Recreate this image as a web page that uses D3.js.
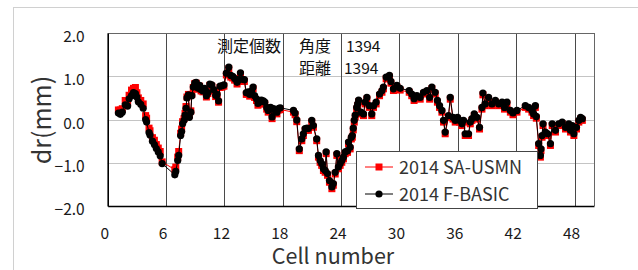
<!DOCTYPE html>
<html><head><meta charset="utf-8">
<script src="https://cdn.jsdelivr.net/npm/d3@7"></script>
<style>
html,body{margin:0;padding:0;background:#fff;}
svg{display:block;}
text{font-family:"Noto Sans CJK JP","Noto Sans",sans-serif;}
</style></head>
<body>
<svg id="c" width="638" height="270"></svg>
<script>
// ---- data ----
const cells = [1.1,1.3,1.5,1.8,2.05,2.2,2.45,2.65,2.85,3.0,3.15,3.4,3.65,3.9,4.0,4.25,4.35,4.6,4.8,5.0,5.2,5.4,5.6,
6.9,7.0,7.2,7.3,7.5,7.6,7.7,7.85,7.95,8.05,8.15,8.3,8.4,8.55,8.65,8.8,8.95,9.1,9.3,9.45,9.6,9.8,9.95,10.15,10.3,10.5,10.7,10.9,11.1,11.25,11.4,11.55,11.75,11.95,
12.2,12.45,12.65,12.85,13.05,13.3,13.45,13.65,13.85,14.05,14.25,14.45,14.6,14.8,14.95,15.1,15.3,15.45,15.6,15.8,16.0,16.15,16.35,16.5,16.75,16.9,17.05,17.25,17.4,17.6,17.75,
19.1,19.27,19.44,19.7,19.96,20.12,20.3,20.5,20.64,20.98,21.15,21.49,21.67,21.84,22.0,22.18,22.36,22.46,22.6,22.8,23.05,23.2,23.39,23.56,23.72,23.9,
24.07,24.24,24.42,24.66,24.76,24.93,25.05,25.15,25.25,25.35,25.45,25.6,25.7,25.8,26.03,26.3,26.47,26.65,26.9,27.15,27.33,27.6,27.95,28.2,28.35,28.63,28.97,29.12,29.38,29.73,30.07,
31.0,31.26,31.5,31.79,32.13,32.47,32.82,33.1,33.33,33.67,33.9,34.12,34.36,34.53,34.7,35.04,35.22,35.5,35.73,35.97,
36.17,36.42,36.58,36.76,37.1,37.28,37.45,37.69,37.96,38.23,38.48,38.58,38.82,39.16,39.51,39.86,40.2,40.55,40.8,41.05,41.4,41.67,
42.08,42.94,43.28,43.62,43.79,43.97,44.07,44.31,44.49,44.55,44.66,44.76,45.0,45.24,45.52,45.7,46.04,46.38,46.73,47.07,47.41,47.58,47.76,47.93,48.2,48.44,48.62,48.8];

const fBasic = [0.15,0.12,0.17,0.34,0.31,0.48,0.55,0.62,0.60,0.52,0.41,0.35,0.26,0.00,-0.06,-0.30,-0.36,-0.50,-0.58,-0.67,-0.75,-0.84,-1.02,
-1.28,-1.20,-0.95,-0.83,-0.37,-0.28,-0.10,-0.02,0.10,0.26,0.50,0.57,0.05,0.17,0.55,0.75,0.84,0.86,0.72,0.79,0.69,0.66,0.72,0.55,0.62,0.82,0.80,0.69,0.56,0.58,0.43,0.77,0.78,0.80,
1.07,1.21,1.02,1.00,0.95,0.86,0.92,1.08,0.93,0.92,0.62,0.64,0.58,0.66,0.75,0.55,0.48,0.37,0.40,0.45,0.43,0.40,0.28,0.21,0.28,0.06,0.25,0.20,0.17,0.26,0.27,
0.21,0.15,-0.01,-0.68,-0.45,-0.33,-0.21,-0.20,-0.21,-0.02,-0.14,-0.45,-0.83,-0.95,-1.02,-1.14,-1.18,-0.75,-1.25,-1.41,-1.56,-1.48,-1.22,-0.79,-1.10,-1.02,
-0.95,-0.87,-0.75,-0.72,-0.52,-0.64,-0.41,-0.37,-0.20,-0.02,0.10,0.28,0.36,0.45,0.17,0.13,0.40,0.51,0.32,0.13,0.32,0.40,0.59,0.67,0.75,0.98,1.02,0.88,0.71,0.79,0.72,
0.67,0.59,0.48,0.55,0.51,0.63,0.67,0.51,0.75,0.63,0.44,0.32,0.21,-0.02,-0.29,0.09,0.51,0.05,-0.02,0.05,
-0.02,-0.10,-0.02,-0.33,-0.33,-0.06,0.02,0.13,0.05,-0.18,0.28,0.61,0.36,0.51,0.36,0.44,0.36,0.40,0.28,0.40,0.21,0.15,
0.21,0.32,0.28,0.21,0.13,0.32,0.07,-0.56,-0.83,-0.68,-0.37,-0.10,-0.29,-0.33,-0.56,-0.10,-0.25,-0.10,-0.06,-0.18,-0.10,-0.25,-0.14,-0.33,-0.18,-0.02,0.05,0.02];

const saUsmn = [0.22,0.22,0.25,0.44,0.40,0.56,0.68,0.72,0.74,0.62,0.50,0.44,0.36,0.09,0.03,-0.20,-0.26,-0.42,-0.48,-0.58,-0.66,-0.74,-0.98,
-1.16,-1.10,-0.87,-0.74,-0.32,-0.22,-0.05,0.02,0.14,0.30,0.52,0.58,0.10,0.20,0.58,0.74,0.83,0.84,0.70,0.77,0.66,0.64,0.70,0.52,0.60,0.79,0.77,0.66,0.53,0.55,0.40,0.74,0.75,0.77,
1.03,1.17,0.98,0.96,0.91,0.82,0.88,1.04,0.89,0.88,0.58,0.60,0.54,0.62,0.71,0.51,0.44,0.33,0.36,0.41,0.39,0.36,0.24,0.17,0.24,0.02,0.21,0.16,0.13,0.22,0.23,
0.17,0.11,-0.05,-0.72,-0.49,-0.37,-0.25,-0.24,-0.25,-0.06,-0.18,-0.49,-0.87,-0.99,-1.06,-1.18,-1.22,-0.79,-1.29,-1.45,-1.60,-1.52,-1.26,-0.83,-1.14,-1.06,
-0.99,-0.91,-0.79,-0.76,-0.56,-0.68,-0.45,-0.41,-0.24,-0.06,0.06,0.24,0.32,0.41,0.13,0.09,0.36,0.47,0.28,0.09,0.28,0.36,0.55,0.63,0.71,0.94,0.98,0.84,0.67,0.75,0.68,
0.63,0.55,0.44,0.51,0.47,0.59,0.63,0.47,0.71,0.59,0.40,0.28,0.17,-0.06,-0.33,0.05,0.47,0.01,-0.06,0.01,
-0.06,-0.14,-0.06,-0.37,-0.37,-0.10,-0.02,0.09,0.01,-0.22,0.24,0.57,0.32,0.47,0.32,0.40,0.32,0.36,0.24,0.36,0.17,0.11,
0.17,0.28,0.24,0.17,0.09,0.28,0.03,-0.60,-0.87,-0.72,-0.41,-0.14,-0.33,-0.37,-0.60,-0.14,-0.29,-0.14,-0.10,-0.22,-0.14,-0.29,-0.18,-0.37,-0.22,-0.06,0.01,-0.02];

const xTicks = [0,6,12,18,24,30,36,42,48];
const yTicks = [2,1,0,-1,-2];
const yTickLabels = ["2.0","1.0","0.0","\u22121.0","\u22122.0"];
const seriesNames = ["2014 SA-USMN","2014 F-BASIC"];
const annotLine1 = ["測定個数","角度","1394"];
const annotLine2 = ["距離","1394"];

// ---- layout ----
const svg = d3.select("#c");
const L=107.7, R=594, T=33, B=206;
const x = d3.scaleLinear().domain([0,50]).range([L,R]);
const y = d3.scaleLinear().domain([-2,2]).range([B,T]);

// outer frame
svg.append("rect").attr("x",13.5).attr("y",7.5).attr("width",700).attr("height",400)
  .attr("fill","none").attr("stroke","#d0d0d0").attr("stroke-width",1);

// horizontal gridlines
svg.append("g").selectAll("line").data([1,0,-1]).join("line")
  .attr("x1",L).attr("x2",R).attr("y1",d=>Math.round(y(d))+0.5).attr("y2",d=>Math.round(y(d))+0.5)
  .attr("stroke","#c4c4c4").attr("stroke-width",1);
// vertical gridlines
svg.append("g").selectAll("line").data(xTicks.filter(d=>d>0)).join("line")
  .attr("x1",d=>Math.round(x(d))+0.5).attr("x2",d=>Math.round(x(d))+0.5).attr("y1",T).attr("y2",B)
  .attr("stroke","#4a4a4a").attr("stroke-width",1);

// plot border
svg.append("line").attr("x1",L).attr("x2",R+0.5).attr("y1",T+0.5).attr("y2",T+0.5).attr("stroke","#666").attr("stroke-width",1);
svg.append("line").attr("x1",R+0.5).attr("x2",R+0.5).attr("y1",T).attr("y2",B).attr("stroke","#666").attr("stroke-width",1);

// axes via d3
const yAxis = d3.axisLeft(y).tickValues(yTicks).tickSize(0).tickFormat((d,i)=>yTickLabels[i]);
const gy = svg.append("g").attr("transform",`translate(${L},0)`).call(yAxis);
gy.select(".domain").attr("stroke","#000").attr("stroke-width",1.6);
gy.selectAll("text").attr("x",-23).attr("dy",null).attr("y",4.5)
  .attr("dominant-baseline","middle")
  .attr("font-size",15.5).attr("fill","#1a1a1a").attr("font-family","'Noto Sans CJK JP',sans-serif");

const xAxis = d3.axisBottom(x).tickValues(xTicks).tickSize(0).tickFormat(d=>String(d));
const gx = svg.append("g").attr("transform",`translate(0,${B})`).call(xAxis);
gx.select(".domain").attr("stroke","#000").attr("stroke-width",1.6);
gx.selectAll("text").attr("dy",null).attr("x",-3.5).attr("y",33)
  .attr("dominant-baseline","alphabetic")
  .attr("font-size",15.5).attr("fill","#1a1a1a").attr("font-family","'Noto Sans CJK JP',sans-serif");

// series
const dataRed = cells.map((c,i)=>[c,saUsmn[i]]);
const dataBlk = cells.map((c,i)=>[c,fBasic[i]]);
const line = d3.line().x(d=>x(d[0])).y(d=>y(d[1]));

const red="#ff0000";
svg.append("path").datum(dataRed).attr("d",line).attr("fill","none").attr("stroke",red).attr("stroke-width",1);
svg.append("g").selectAll("rect").data(dataRed).join("rect")
  .attr("x",d=>x(d[0])-3.5).attr("y",d=>y(d[1])-3.5).attr("width",7).attr("height",7).attr("fill",red);

svg.append("path").datum(dataBlk).attr("d",line).attr("fill","none").attr("stroke","#000").attr("stroke-width",1);
svg.append("g").selectAll("circle").data(dataBlk).join("circle")
  .attr("cx",d=>x(d[0])).attr("cy",d=>y(d[1])).attr("r",3.6).attr("fill","#000");

// annotation
const af = "'Noto Sans CJK JP',sans-serif";
svg.append("text").attr("x",217).attr("y",52).attr("font-size",16).attr("font-family",af).attr("fill","#111").text(annotLine1[0]);
svg.append("text").attr("x",299).attr("y",52).attr("font-size",16).attr("font-family",af).attr("fill","#111").text(annotLine1[1]);
svg.append("text").attr("x",346).attr("y",52).attr("font-size",15.5).attr("font-family",af).attr("fill","#111").text(annotLine1[2]);
svg.append("text").attr("x",299).attr("y",74).attr("font-size",16).attr("font-family",af).attr("fill","#111").text(annotLine2[0]);
svg.append("text").attr("x",344).attr("y",74).attr("font-size",15.5).attr("font-family",af).attr("fill","#111").text(annotLine2[1]);

// axis titles
svg.append("text").attr("transform","translate(51,120) rotate(-90)").attr("text-anchor","middle")
  .attr("font-size",25).attr("font-family","'Noto Sans',sans-serif").attr("fill","#333").text("dr(mm)");
svg.append("text").attr("x",333).attr("y",264).attr("text-anchor","middle")
  .attr("font-size",21.5).attr("font-family","'Noto Sans',sans-serif").attr("fill","#333").text("Cell number");

// legend
const lg = svg.append("g");
lg.append("rect").attr("x",356.5).attr("y",151.5).attr("width",181).attr("height",57)
  .attr("fill","#fff").attr("stroke","#444").attr("stroke-width",1);
const rows = [{name:seriesNames[0],color:red,shape:"sq",y:167},{name:seriesNames[1],color:"#000",shape:"ci",y:194}];
rows.forEach(r=>{
  lg.append("line").attr("x1",365).attr("x2",393).attr("y1",r.y).attr("y2",r.y).attr("stroke",r.color).attr("stroke-width",1);
  if(r.shape==="sq") lg.append("rect").attr("x",375.5).attr("y",r.y-3.5).attr("width",7).attr("height",7).attr("fill",r.color);
  else lg.append("circle").attr("cx",379).attr("cy",r.y).attr("r",3.6).attr("fill",r.color);
  lg.append("text").attr("x",399).attr("y",r.y+7).attr("font-size",18).attr("font-family",af).attr("fill","#333").text(r.name);
});
</script>
</body></html>
